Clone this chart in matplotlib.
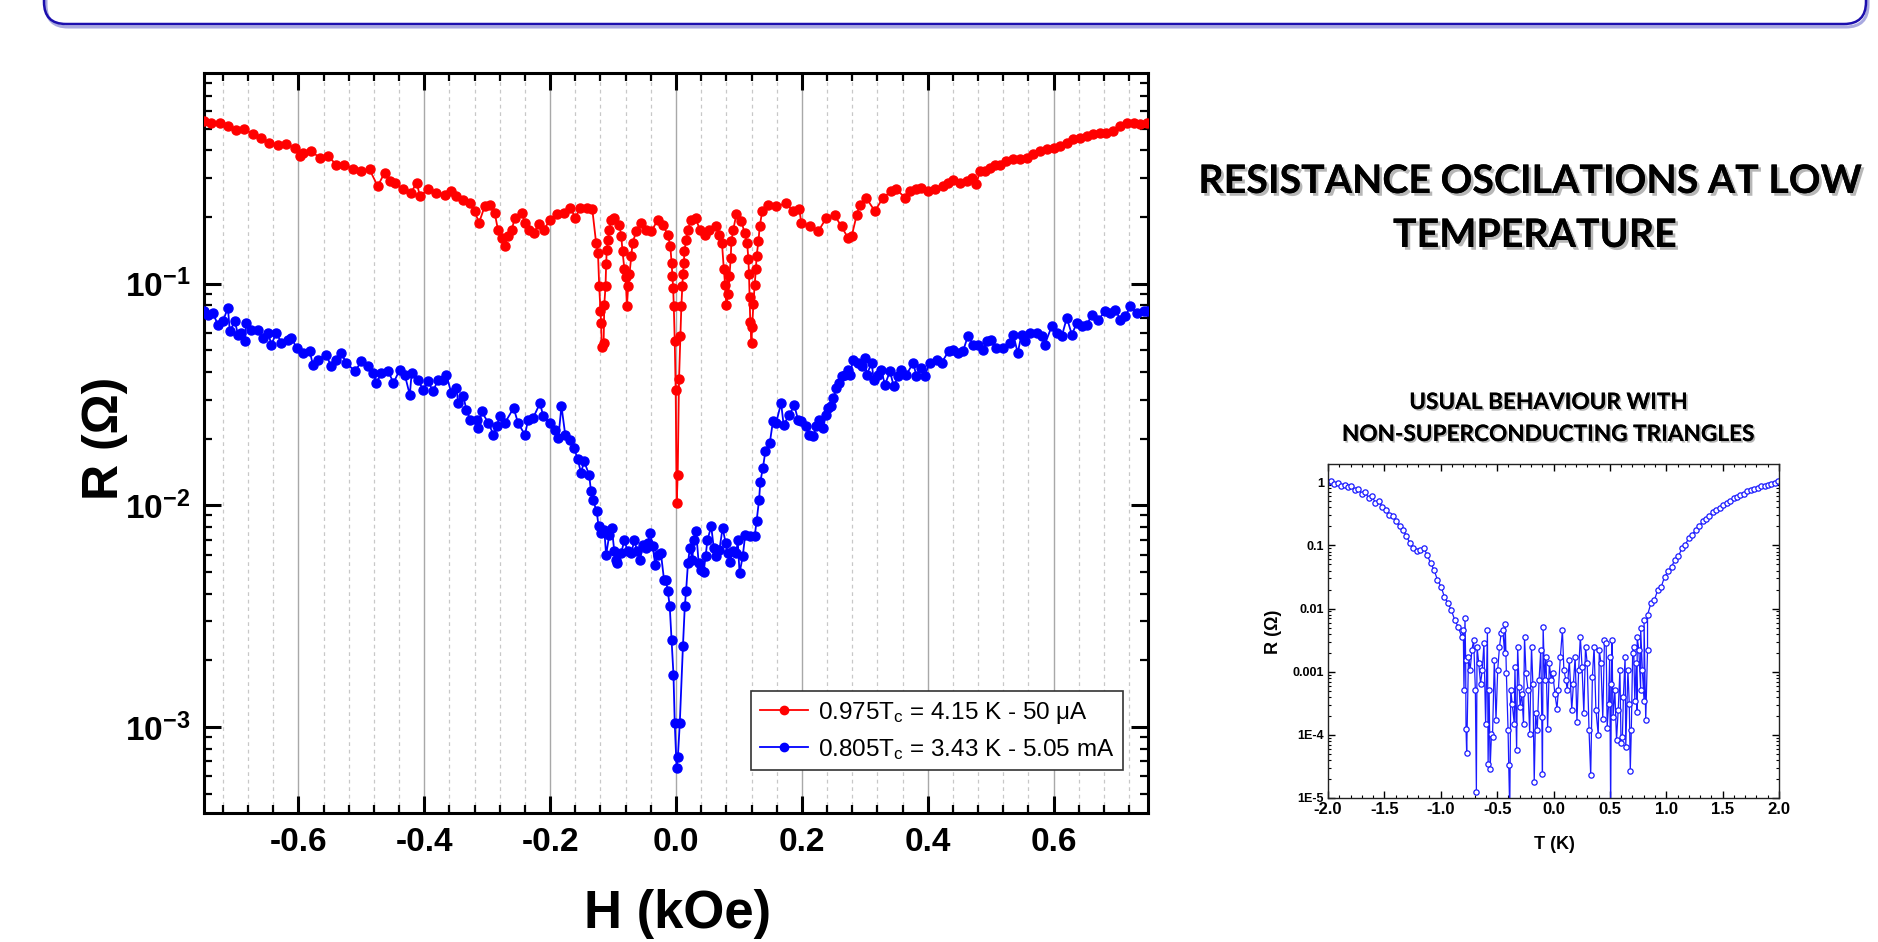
import numpy as np
import matplotlib
matplotlib.use("Agg")
import matplotlib.pyplot as plt
import matplotlib.patheffects as pe
from matplotlib.patches import FancyBboxPatch
from matplotlib.transforms import IdentityTransform
from matplotlib.ticker import MultipleLocator, LogLocator, FuncFormatter, NullFormatter

plt.rcParams['font.family'] = ['Liberation Sans', 'DejaVu Sans']
plt.rcParams['axes.unicode_minus'] = False
plt.rcParams['mathtext.fontset'] = 'custom'
plt.rcParams['mathtext.rm'] = 'Liberation Sans'
plt.rcParams['mathtext.bf'] = 'Liberation Sans:bold'
plt.rcParams['mathtext.it'] = 'Liberation Sans:italic'

# --- main panel: R(H) at two temperatures ---
red_h = [-0.750, -0.739, -0.725, -0.712, -0.699, -0.686, -0.672, -0.659, -0.646, -0.633,
         -0.619, -0.606, -0.598, -0.593, -0.580, -0.566, -0.553, -0.540, -0.527, -0.513,
         -0.500, -0.487, -0.474, -0.463, -0.455, -0.447, -0.434, -0.421, -0.412, -0.407,
         -0.394, -0.381, -0.367, -0.357, -0.349, -0.338, -0.328, -0.320, -0.313, -0.304,
         -0.296, -0.288, -0.283, -0.277, -0.272, -0.267, -0.261, -0.256, -0.245, -0.240,
         -0.234, -0.226, -0.218, -0.210, -0.200, -0.189, -0.178, -0.168, -0.160, -0.152,
         -0.141, -0.133, -0.127, -0.124, -0.122, -0.120, -0.119, -0.118, -0.115, -0.114,
         -0.112, -0.111, -0.110, -0.108, -0.106, -0.103, -0.098, -0.090, -0.087, -0.085,
         -0.082, -0.080, -0.078, -0.076, -0.074, -0.071, -0.069, -0.063, -0.055, -0.047,
         -0.039, -0.029, -0.021, -0.013, -0.009, -0.007, -0.0056, -0.0045, -0.0035, -0.002,
         -0.0005, 0.0011, 0.0027, 0.0048, 0.007, 0.0085, 0.010, 0.011, 0.0125, 0.0134,
         0.016, 0.019, 0.024, 0.031, 0.038, 0.046, 0.053, 0.064, 0.069, 0.073,
         0.076, 0.078, 0.080, 0.083, 0.085, 0.087, 0.088, 0.091, 0.096, 0.104,
         0.109, 0.113, 0.115, 0.116, 0.117, 0.118, 0.120, 0.121, 0.123, 0.125,
         0.127, 0.128, 0.131, 0.133, 0.137, 0.146, 0.159, 0.175, 0.186, 0.196,
         0.199, 0.213, 0.226, 0.239, 0.252, 0.263, 0.273, 0.279, 0.287, 0.292,
         0.302, 0.316, 0.329, 0.342, 0.350, 0.364, 0.3715, 0.382, 0.390, 0.401,
         0.411, 0.425, 0.4325, 0.440, 0.451, 0.462, 0.470, 0.477, 0.483, 0.491,
         0.499, 0.507, 0.515, 0.525, 0.536, 0.5466, 0.557, 0.568, 0.578, 0.589,
         0.600, 0.610, 0.621, 0.631, 0.642, 0.653, 0.663, 0.674, 0.684, 0.695,
         0.706, 0.716, 0.727, 0.7375, 0.748]
red_r = [0.540, 0.531, 0.531, 0.513, 0.495, 0.499, 0.470, 0.454, 0.431, 0.420,
         0.424, 0.410, 0.376, 0.389, 0.396, 0.369, 0.376, 0.344, 0.344, 0.329,
         0.321, 0.327, 0.275, 0.316, 0.290, 0.285, 0.266, 0.257, 0.285, 0.248,
         0.266, 0.257, 0.252, 0.261, 0.248, 0.239, 0.231, 0.212, 0.188, 0.223,
         0.227, 0.208, 0.175, 0.161, 0.147, 0.164, 0.175, 0.198, 0.208, 0.188,
         0.175, 0.169, 0.185, 0.175, 0.194, 0.205, 0.208, 0.220, 0.198, 0.220,
         0.220, 0.216, 0.153, 0.138, 0.097, 0.075, 0.0665, 0.052, 0.054, 0.080,
         0.097, 0.122, 0.142, 0.157, 0.175, 0.194, 0.197, 0.184, 0.164, 0.140,
         0.116, 0.107, 0.079, 0.097, 0.110, 0.133, 0.153, 0.172, 0.188, 0.175,
         0.172, 0.194, 0.184, 0.166, 0.147, 0.124, 0.108, 0.0955, 0.079, 0.055,
         0.033, 0.0102, 0.0137, 0.037, 0.058, 0.079, 0.097, 0.110, 0.124, 0.140,
         0.157, 0.175, 0.194, 0.197, 0.175, 0.166, 0.175, 0.181, 0.166, 0.153,
         0.116, 0.099, 0.080, 0.090, 0.108, 0.131, 0.155, 0.175, 0.206, 0.191,
         0.169, 0.153, 0.129, 0.110, 0.087, 0.067, 0.054, 0.064, 0.081, 0.099,
         0.116, 0.133, 0.155, 0.181, 0.212, 0.226, 0.223, 0.230, 0.212, 0.216,
         0.188, 0.181, 0.172, 0.198, 0.203, 0.181, 0.161, 0.163, 0.203, 0.227,
         0.244, 0.212, 0.244, 0.261, 0.266, 0.244, 0.261, 0.266, 0.270, 0.261,
         0.266, 0.275, 0.285, 0.294, 0.285, 0.290, 0.299, 0.280, 0.321, 0.321,
         0.333, 0.344, 0.344, 0.357, 0.363, 0.363, 0.369, 0.383, 0.395, 0.403,
         0.410, 0.417, 0.431, 0.447, 0.455, 0.462, 0.470, 0.478, 0.478, 0.487,
         0.513, 0.531, 0.531, 0.522, 0.531]

blue_h = [-0.750, -0.744, -0.736, -0.728, -0.720, -0.712, -0.709, -0.701, -0.696, -0.691,
          -0.685, -0.683, -0.675, -0.664, -0.656, -0.648, -0.643, -0.635, -0.627, -0.617,
          -0.611, -0.603, -0.593, -0.582, -0.577, -0.569, -0.556, -0.548, -0.540, -0.532,
          -0.524, -0.510, -0.500, -0.489, -0.481, -0.476, -0.468, -0.457, -0.449, -0.439,
          -0.431, -0.423, -0.420, -0.410, -0.402, -0.394, -0.386, -0.378, -0.370, -0.365,
          -0.357, -0.349, -0.346, -0.338, -0.333, -0.327, -0.317, -0.314, -0.309, -0.298,
          -0.290, -0.285, -0.280, -0.272, -0.258, -0.251, -0.240, -0.235, -0.227, -0.216,
          -0.211, -0.200, -0.192, -0.187, -0.182, -0.176, -0.168, -0.162, -0.156, -0.151,
          -0.146, -0.138, -0.135, -0.132, -0.126, -0.123, -0.119, -0.114, -0.111, -0.106,
          -0.102, -0.098, -0.095, -0.093, -0.087, -0.082, -0.077, -0.071, -0.066, -0.062,
          -0.057, -0.053, -0.048, -0.045, -0.041, -0.037, -0.033, -0.029, -0.024, -0.019,
          -0.016, -0.013, -0.010, -0.007, -0.004, -0.002, 0.001, 0.003, 0.006, 0.011,
          0.014, 0.016, 0.019, 0.022, 0.026, 0.028, 0.032, 0.036, 0.040, 0.044,
          0.047, 0.050, 0.056, 0.060, 0.064, 0.069, 0.074, 0.079, 0.082, 0.086,
          0.090, 0.096, 0.098, 0.101, 0.106, 0.110, 0.117, 0.125, 0.128, 0.132,
          0.134, 0.138, 0.142, 0.149, 0.154, 0.159, 0.167, 0.171, 0.180, 0.188,
          0.194, 0.199, 0.207, 0.212, 0.218, 0.223, 0.228, 0.234, 0.238, 0.242,
          0.247, 0.250, 0.255, 0.259, 0.263, 0.268, 0.273, 0.277, 0.281, 0.289,
          0.295, 0.300, 0.303, 0.311, 0.314, 0.321, 0.326, 0.332, 0.340, 0.346,
          0.353, 0.358, 0.366, 0.377, 0.382, 0.390, 0.395, 0.403, 0.414, 0.422,
          0.433, 0.440, 0.448, 0.456, 0.464, 0.472, 0.480, 0.488, 0.494, 0.501,
          0.509, 0.520, 0.531, 0.536, 0.543, 0.549, 0.555, 0.562, 0.573, 0.581,
          0.586, 0.597, 0.605, 0.613, 0.621, 0.629, 0.637, 0.645, 0.653, 0.661,
          0.671, 0.682, 0.690, 0.698, 0.706, 0.714, 0.722, 0.732, 0.743, 0.749]
blue_r = [0.0750, 0.0725, 0.0737, 0.0653, 0.0676, 0.0777, 0.0609, 0.0676, 0.0589, 0.0599,
          0.0549, 0.0665, 0.0620, 0.0620, 0.0569, 0.0599, 0.0531, 0.0599, 0.0540, 0.0559,
          0.0569, 0.0513, 0.0486, 0.0495, 0.0431, 0.0454, 0.0478, 0.0424, 0.0454, 0.0486,
          0.0439, 0.0402, 0.0446, 0.0424, 0.0395, 0.0356, 0.0395, 0.0402, 0.0356, 0.0409,
          0.0388, 0.0315, 0.0395, 0.0369, 0.0332, 0.0362, 0.0327, 0.0369, 0.0369, 0.0388,
          0.0321, 0.0338, 0.0289, 0.0310, 0.0270, 0.0243, 0.0243, 0.0223, 0.0265, 0.0235,
          0.0208, 0.0227, 0.0252, 0.0235, 0.0275, 0.0235, 0.0208, 0.0243, 0.0248, 0.0289,
          0.0252, 0.0235, 0.0219, 0.0201, 0.0280, 0.0208, 0.0198, 0.0181, 0.0161, 0.0140,
          0.0158, 0.0137, 0.01156, 0.0106, 0.00939, 0.00803, 0.00750, 0.00776, 0.00598, 0.00737,
          0.00790, 0.00620, 0.00568, 0.00549, 0.00609, 0.00700, 0.00620, 0.00609, 0.00700, 0.00620,
          0.00568, 0.00664, 0.00642, 0.00676, 0.00750, 0.00653, 0.00540, 0.00598, 0.00609, 0.00461,
          0.00461, 0.00409, 0.00352, 0.00247, 0.00172, 0.00104, 0.000652, 0.000736, 0.00104, 0.00231,
          0.00352, 0.00409, 0.00549, 0.00642, 0.00568, 0.00700, 0.00763, 0.00549, 0.00512, 0.00503,
          0.00588, 0.00700, 0.00803, 0.00642, 0.00588, 0.00630, 0.00790, 0.00676, 0.00609, 0.00558,
          0.00620, 0.00609, 0.00700, 0.00495, 0.00588, 0.00737, 0.00724, 0.00724, 0.00846, 0.0106,
          0.0128, 0.0147, 0.0175, 0.0191, 0.0239, 0.0235, 0.0289, 0.0231, 0.0256, 0.0282,
          0.0243, 0.0239, 0.0227, 0.0208, 0.0205, 0.0227, 0.0243, 0.0223, 0.0256, 0.0275,
          0.0280, 0.0305, 0.0338, 0.0356, 0.0382, 0.0388, 0.0409, 0.0388, 0.0454, 0.0439,
          0.0424, 0.0462, 0.0388, 0.0439, 0.0369, 0.0388, 0.0409, 0.0350, 0.0402, 0.0344,
          0.0382, 0.0409, 0.0388, 0.0439, 0.0382, 0.0416, 0.0382, 0.0439, 0.0454, 0.0439,
          0.0495, 0.0504, 0.0486, 0.0495, 0.0582, 0.0531, 0.0531, 0.0504, 0.0549, 0.0559,
          0.0513, 0.0513, 0.0540, 0.0589, 0.0486, 0.0589, 0.0549, 0.0599, 0.0599, 0.0579,
          0.0531, 0.0642, 0.0599, 0.0579, 0.0700, 0.0589, 0.0665, 0.0642, 0.0653, 0.0725,
          0.0688, 0.0750, 0.0737, 0.0763, 0.0688, 0.0712, 0.0790, 0.0737, 0.0750, 0.0750]

red_label = '0.975T$_\\mathregular{c}$ = 4.15 K - 50 \u03bcA'
blue_label = '0.805T$_\\mathregular{c}$ = 3.43 K - 5.05 mA'

# --- inset: R(T) with non-superconducting triangles ---
inset_t = [-2.000, -1.976, -1.945, -1.915, -1.884, -1.853, -1.823, -1.792, -1.762, -1.731,
           -1.701, -1.670, -1.640, -1.609, -1.579, -1.548, -1.518, -1.487, -1.457, -1.426,
           -1.396, -1.365, -1.334, -1.304, -1.273, -1.243, -1.212, -1.182, -1.151, -1.121,
           -1.090, -1.060, -1.029, -0.998, -0.968, -0.937, -0.907, -0.876, -0.846,
           -0.815, -0.800, -0.794, -0.785, -0.779, -0.776, -0.770, -0.754, -0.739, -0.724,
           -0.708, -0.693, -0.684, -0.678, -0.663, -0.647, -0.632, -0.617, -0.602, -0.586,
           -0.580, -0.571, -0.562, -0.550, -0.541, -0.525, -0.510, -0.495, -0.479, -0.464,
           -0.449, -0.434, -0.428, -0.418, -0.403, -0.397, -0.388, -0.379, -0.366, -0.348,
           -0.342, -0.327, -0.318, -0.305, -0.296, -0.281, -0.266, -0.257, -0.244, -0.226,
           -0.211, -0.195, -0.183, -0.171, -0.159, -0.144, -0.128, -0.113, -0.104, -0.098,
           -0.092, -0.079, -0.067, -0.052, -0.037, -0.021, -0.006, 0.012, 0.031, 0.043,
           0.061, 0.079, 0.092, 0.110, 0.122, 0.140, 0.162, 0.177, 0.192, 0.208,
           0.223, 0.238, 0.253, 0.269, 0.284, 0.299, 0.315, 0.330, 0.345, 0.360,
           0.376, 0.397, 0.406, 0.421, 0.437, 0.452, 0.467, 0.476, 0.489, 0.498,
           0.507, 0.513, 0.519, 0.528, 0.544, 0.559, 0.574, 0.589, 0.599, 0.611,
           0.620, 0.635, 0.641, 0.660, 0.672, 0.681, 0.690, 0.702, 0.721, 0.733,
           0.742, 0.757, 0.773, 0.788, 0.803, 0.818, 0.834,
           0.711, 0.742, 0.773, 0.803, 0.834, 0.864, 0.895, 0.925, 0.956, 0.986,
           1.017, 1.047, 1.078, 1.108, 1.139, 1.169, 1.200, 1.231, 1.261, 1.292,
           1.322, 1.353, 1.383, 1.414, 1.444, 1.475, 1.505, 1.536, 1.566, 1.597,
           1.627, 1.658, 1.689, 1.719, 1.750, 1.780, 1.811, 1.841, 1.872, 1.902,
           1.933, 1.963, 1.994]
inset_r = [1.00, 1.04, 0.953, 0.976, 0.885, 0.918, 0.843, 0.864, 0.746, 0.784,
           0.661, 0.694, 0.564, 0.599, 0.470, 0.499, 0.406, 0.368, 0.307, 0.289,
           0.240, 0.200, 0.177, 0.139, 0.109, 0.0907, 0.0803, 0.0853, 0.0907, 0.0711,
           0.0525, 0.0411, 0.0285, 0.0223, 0.0155, 0.0122, 0.00953, 0.00661, 0.00518,
           3.6e-3, 4.6e-3, 5.1e-4, 7.0e-3, 1.53e-3, 1.26e-4, 5.1e-5, 1.73e-3, 1.06e-3, 2.2e-3,
           3.2e-3, 5.1e-4, 1.25e-5, 2.5e-3, 1.36e-3, 6.5e-4, 1.06e-3, 2.8e-3, 1.5e-4, 4.6e-3,
           3.5e-5, 5.1e-4, 2.9e-5, 1.05e-4, 9.3e-5, 1.53e-3, 1.7e-4, 1.06e-3, 2.5e-3, 4.1e-3,
           4.6e-3, 1.95e-3, 5.8e-3, 9.4e-4, 1.19e-4, 3.3e-5, 6e-6, 5.1e-4, 3.1e-4, 1.5e-4,
           1.2e-3, 5.7e-5, 2.5e-3, 5.8e-4, 2.8e-4, 4.5e-4, 1.5e-4, 3.6e-3, 9.4e-4, 5.1e-4,
           1.05e-4, 2.5e-3, 6.5e-4, 1.8e-5, 2.2e-4, 1.19e-4, 7.4e-4, 2.2e-3, 1.9e-4, 2.4e-5,
           5.2e-3, 7.4e-4, 1.73e-3, 1.26e-4, 1.36e-3, 7.4e-4, 9.4e-4, 4.5e-4, 2.6e-4, 5.1e-4,
           1.73e-3, 4.6e-3, 1.06e-3, 7.4e-4, 5.1e-4, 1.53e-3, 2.5e-4, 6.5e-4, 1.73e-3, 1.6e-4,
           1.06e-3, 3.6e-3, 1.2e-3, 2.2e-4, 2.5e-3, 1.36e-3, 1.19e-4, 2.3e-5, 8.3e-4, 2.5e-3,
           2.5e-4, 9.9e-5, 2.2e-3, 1.36e-3, 1.8e-4, 3.2e-3, 2.8e-3, 1.3e-4, 3.1e-4, 1.73e-3,
           6e-6, 6.5e-4, 3.2e-3, 1.9e-4, 5.1e-4, 8.2e-5, 2.5e-4, 1.06e-3, 7.3e-5, 9.3e-5,
           4.0e-4, 1.73e-3, 6.5e-5, 1.06e-3, 3.1e-4, 2.7e-5, 1.19e-4, 1.95e-3, 3.5e-4, 1.36e-3,
           2.3e-4, 2.2e-3, 5.1e-4, 1.06e-3, 3.5e-4, 1.7e-4, 2.2e-3,
           2.5e-3, 3.6e-3, 4.9e-3, 6.6e-3, 7.9e-3, 0.0122, 0.0137, 0.0198, 0.0223, 0.0322,
           0.0387, 0.0464, 0.0592, 0.0669, 0.0907, 0.103, 0.131, 0.148, 0.177, 0.200,
           0.240, 0.262, 0.289, 0.334, 0.368, 0.392, 0.442, 0.470, 0.499, 0.564,
           0.585, 0.637, 0.661, 0.720, 0.746, 0.784, 0.813, 0.864, 0.885, 0.918,
           0.953, 0.976, 1.04]
inset_yticks = [1e-5, 1e-4, 1e-3, 1e-2, 1e-1, 1]
inset_yticklabels = ['1E-5', '1E-4', '0.001', '0.01', '0.1', '1']

W, H = 1878, 942
fig = plt.figure(figsize=(W / 100, H / 100), dpi=100)
fig.patch.set_facecolor('white')

# blue frame of the slide header (only its lower part is visible)
frame_shadow = FancyBboxPatch((46, H - 27), 1822, 120, boxstyle='round,pad=0,rounding_size=22',
                              transform=IdentityTransform(), facecolor='none',
                              edgecolor='#a9a9e0', linewidth=2.2, zorder=4)
frame = FancyBboxPatch((44, H - 24), 1822, 120, boxstyle='round,pad=0,rounding_size=22',
                       transform=IdentityTransform(), facecolor='none',
                       edgecolor='#1c0fae', linewidth=1.8, zorder=5)
fig.add_artist(frame_shadow)
fig.add_artist(frame)

# ---------------- main axes ----------------
ax = fig.add_axes([204 / W, 1 - 813 / H, 944 / W, 740 / H])
ax.plot(blue_h, blue_r, '-o', color='#0000ff', lw=1.3, ms=6.5, label=blue_label, zorder=3)
ax.plot(red_h, red_r, '-o', color='#ff0000', lw=1.3, ms=6.5, label=red_label, zorder=4)
ax.set_yscale('log')
ax.set_xlim(-0.75, 0.75)
ax.set_ylim(4.1e-4, 0.89)

ax.xaxis.set_major_locator(MultipleLocator(0.2))
ax.xaxis.set_minor_locator(MultipleLocator(0.04))
ax.xaxis.set_major_formatter(FuncFormatter(lambda v, p: f'{v:.1f}'))
ax.yaxis.set_major_locator(LogLocator(base=10, numticks=10))
ax.yaxis.set_minor_locator(LogLocator(base=10, subs=np.arange(2, 10), numticks=20))
ax.yaxis.set_minor_formatter(NullFormatter())
ax.yaxis.set_major_formatter(FuncFormatter(lambda v, p: r'$\mathbf{10^{%d}}$' % round(np.log10(v))))

ax.grid(which='major', axis='x', color='#a8a8a8', lw=1.0)
ax.grid(which='minor', axis='x', color='#c8c8c8', lw=0.9, ls=(0, (3, 3)))
ax.set_axisbelow(True)

ax.tick_params(which='both', direction='in', top=True, right=True)
ax.tick_params(which='major', length=12, width=2.2, labelsize=24, pad=10)
ax.tick_params(which='minor', length=6, width=1.6)
for lab in ax.get_xticklabels() + ax.get_yticklabels():
    lab.set_fontweight('bold')
for sp in ax.spines.values():
    sp.set_linewidth(2.2)

leg = ax.legend(handles=ax.get_lines()[::-1], loc='lower right', bbox_to_anchor=(0.9735, 0.058),
                borderaxespad=0, fontsize=17.5, numpoints=1, handlelength=2.0,
                handletextpad=0.4, fancybox=False, framealpha=1, edgecolor='#333333',
                borderpad=0.35, labelspacing=0.45)
leg.get_frame().set_linewidth(1.2)
for hl in leg.get_lines():
    hl.set_markersize(6)

fig.text(678 / W, 1 - 928 / H, 'H (kOe)', ha='center', va='baseline', fontsize=38, fontweight='bold')
fig.text(105 / W, 1 - 438 / H, 'R (\u03a9)', ha='center', va='center', rotation=90,
         fontsize=36, fontweight='bold')

# ---------------- titles ----------------
shadow = [pe.withSimplePatchShadow(offset=(2, -2), shadow_rgbFace='#606060', alpha=0.45), pe.Normal()]
small_shadow = [pe.withSimplePatchShadow(offset=(1.2, -1.2), shadow_rgbFace='#606060', alpha=0.45), pe.Normal()]
t1 = fig.text(1531 / W, 1 - 193 / H, 'RESISTANCE OSCILATIONS AT LOW', ha='center', va='baseline',
              fontsize=30, fontweight='bold', family='Lato', path_effects=shadow)
t2 = fig.text(1535 / W, 1 - 247 / H, 'TEMPERATURE', ha='center', va='baseline',
              fontsize=30, fontweight='bold', family='Lato', path_effects=shadow)
s1 = fig.text(1549 / W, 1 - 409 / H, 'USUAL BEHAVIOUR WITH', ha='center', va='baseline',
              fontsize=16, fontweight='bold', family='Lato', path_effects=small_shadow)
s2 = fig.text(1549 / W, 1 - 441 / H, 'NON-SUPERCONDUCTING TRIANGLES', ha='center', va='baseline',
              fontsize=16, fontweight='bold', family='Lato', path_effects=small_shadow)

# fit the title widths to the slide
fig.canvas.draw()
rend = fig.canvas.get_renderer()
k = 663 / t1.get_window_extent(rend).width
t1.set_fontsize(t1.get_fontsize() * k)
t2.set_fontsize(t2.get_fontsize() * k)
k2 = 413 / s2.get_window_extent(rend).width
s1.set_fontsize(s1.get_fontsize() * k2)
s2.set_fontsize(s2.get_fontsize() * k2)

# ---------------- inset ----------------
order = np.argsort(inset_t, kind='stable')
t_sorted = np.asarray(inset_t)[order]
r_sorted = np.asarray(inset_r)[order]

ax2 = fig.add_axes([1328 / W, 1 - 798 / H, 451 / W, 334 / H])
ax2.plot(t_sorted, r_sorted, '-o', color='#1a1aff', lw=0.9, ms=3.8, mfc='white', mec='#1a1aff', mew=0.9)
ax2.set_yscale('log')
ax2.set_xlim(-2.0, 2.0)
ax2.set_ylim(1e-5, 1.95)
ax2.xaxis.set_major_locator(MultipleLocator(0.5))
ax2.xaxis.set_minor_locator(MultipleLocator(0.1))
ax2.xaxis.set_major_formatter(FuncFormatter(lambda v, p: f'{v:.1f}'))
ax2.set_yticks(inset_yticks)
ax2.set_yticklabels(inset_yticklabels)
ax2.yaxis.set_minor_locator(LogLocator(base=10, subs=np.arange(2, 10), numticks=20))
ax2.yaxis.set_minor_formatter(NullFormatter())
ax2.tick_params(which='both', direction='in', top=True, right=True)
ax2.tick_params(which='major', length=5, width=1.0, pad=3)
ax2.tick_params(which='minor', length=2.5, width=0.8)
ax2.tick_params(axis='x', labelsize=12)
ax2.tick_params(axis='y', labelsize=9)
for lab in ax2.get_xticklabels() + ax2.get_yticklabels():
    lab.set_fontweight('bold')
for sp in ax2.spines.values():
    sp.set_linewidth(1.0)
    sp.set_color('#222222')

fig.text(1554 / W, 1 - 849 / H, 'T (K)', ha='center', va='baseline', fontsize=13, fontweight='bold')
fig.text(1274 / W, 1 - 632 / H, 'R (\u03a9)', ha='center', va='center', rotation=90,
         fontsize=13, fontweight='bold')

fig.savefig('out.png', dpi=100, facecolor='white')
